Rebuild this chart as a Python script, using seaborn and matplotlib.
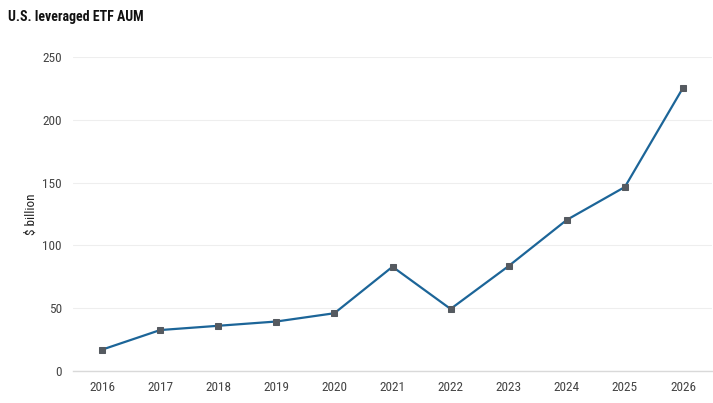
import matplotlib
matplotlib.use("Agg")
import matplotlib.pyplot as plt
import seaborn as sns
import pandas as pd

years = [2016, 2017, 2018, 2019, 2020, 2021, 2022, 2023, 2024, 2025, 2026]
aum = [17.0, 32.6, 36.0, 39.4, 46.0, 83.0, 49.4, 83.6, 120.3, 146.5, 225.4]
yticks = [0, 50, 100, 150, 200, 250]

df = pd.DataFrame({'year': years, 'aum': aum})

sns.set_style('white')
plt.rcParams['font.family'] = ['Roboto Condensed', 'Liberation Sans Narrow', 'Roboto', 'DejaVu Sans']

fig = plt.figure(figsize=(7.13, 4.03), dpi=100)
ax = fig.add_axes([0.1024, 0.0794, 0.8962, 0.7792])

sns.lineplot(data=df, x='year', y='aum', ax=ax, color='#1c6598', linewidth=1.6,
             marker='s', markersize=5, markerfacecolor='#555a60',
             markeredgecolor='#555a60', zorder=3)

ax.set_xlim(years[0] - 0.5, years[-1] + 0.5)
ax.set_ylim(0, 250)
ax.set_yticks(yticks)
ax.set_yticklabels([str(v) for v in yticks])
ax.set_xticks(years)
ax.set_xticklabels([str(y) for y in years])
ax.set_xticks([y + 0.5 for y in years[:-1]] + [years[0] - 0.5, years[-1] + 0.5], minor=True)

ax.grid(axis='y', color='#eeeeee', linewidth=0.8)
ax.set_axisbelow(True)
for side in ['top', 'right', 'left']:
    ax.spines[side].set_visible(False)
ax.spines['bottom'].set_color('#d9d9d9')
ax.spines['bottom'].set_linewidth(1)

ax.tick_params(axis='y', length=0, labelsize=9.5, labelcolor='#444444', pad=8)
ax.tick_params(axis='x', which='major', length=0, labelsize=9.5, labelcolor='#444444', pad=7)
ax.tick_params(axis='x', which='minor', length=5, color='#d9d9d9', width=1)

ax.set_xlabel('')
ax.set_ylabel(r'\$ billion', fontsize=9.5, color='#222222', labelpad=3)

fig.text(0.011, 0.975, 'U.S. leveraged ETF AUM', fontsize=10, fontweight='bold',
         color='#111111', va='top', ha='left')

fig.savefig('out.png', dpi=100)
